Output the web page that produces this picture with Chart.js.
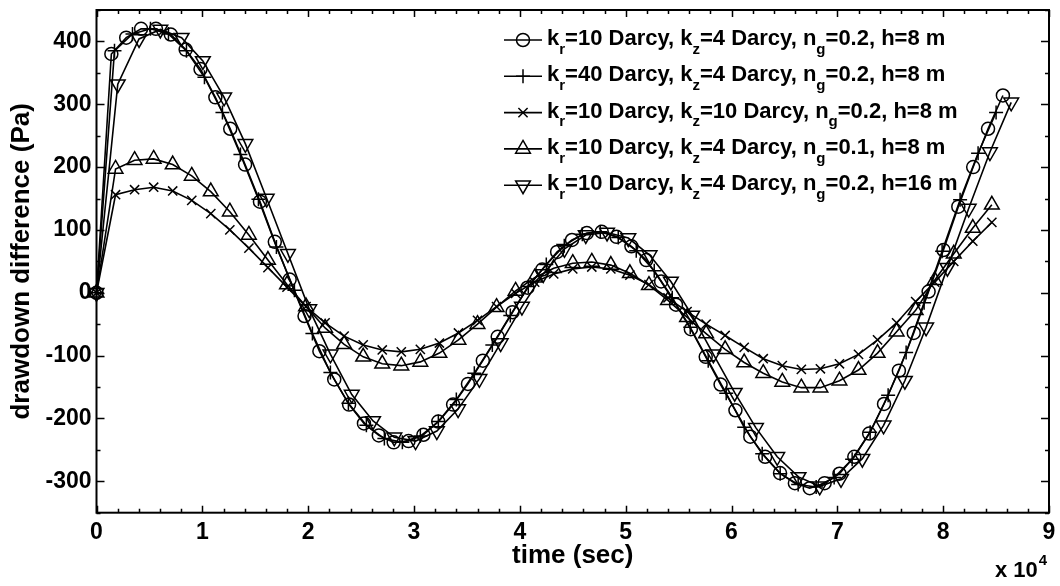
<!DOCTYPE html>
<html><head><meta charset="utf-8">
<script src="https://cdn.jsdelivr.net/npm/chart.js@4/dist/chart.umd.min.js"></script>
<style>html,body{margin:0;padding:0;background:#fff}canvas{display:block}</style>
</head><body>
<canvas id="c" width="1060" height="586"></canvas>
<script>
// ---- tick labels ----
const xTickLabels = [0, 1, 2, 3, 4, 5, 6, 7, 8, 9];           // units of 10^4 sec
const yTickLabels = [-300, -200, -100, 0, 100, 200, 300, 400];
const xTitle = 'time (sec)';
const yTitle = 'drawdown difference (Pa)';
const xExponent = ['x 10', '4'];
// legend labels, "_c" = subscript character
const legendLabels = [
  'k_r=10 Darcy, k_z=4 Darcy, n_g=0.2, h=8 m',
  'k_r=40 Darcy, k_z=4 Darcy, n_g=0.2, h=8 m',
  'k_r=10 Darcy, k_z=10 Darcy, n_g=0.2, h=8 m',
  'k_r=10 Darcy, k_z=4 Darcy, n_g=0.1, h=8 m',
  'k_r=10 Darcy, k_z=4 Darcy, n_g=0.2, h=16 m'
];

// ---- series 1 : circles ----
const t1 = [0,1404,2808,4212,5616,7020,8424,9828,11232,12636,14040,15444,16848,18252,19656,21060,22464,23868,25272,26676,28080,29484,30888,32292,33696,35100,36504,37908,39312,40716,42120,43524,44928,46332,47736,49140,50544,51948,53352,54756,56160,57564,58968,60372,61776,63180,64584,65988,67392,68796,70200,71604,73008,74412,75816,77220,78624,80028,81432,82836,84240,85644];
const s1 = [0,380,406,420,420,411,387,356,311,261,
  204,145,81,21,-37,-93,-138,-178,-208,-227,
  -238,-236,-226,-205,-178,-145,-108,-70,-31,8,
  37,65,84,95,97,89,74,52,18,-19,
  -58,-102,-146,-187,-229,-261,-287,-303,-311,-303,
  -288,-261,-224,-177,-124,-64,2,68,137,200,
  261,314];
// ---- series 2 : plus ----
const t2 = [0,1700,3400,5100,6800,8500,10200,11900,13600,15300,17000,18700,20400,22100,23800,25500,27200,28900,30600,32300,34000,35700,37400,39100,40800,42500,44200,45900,47600,49300,51000,52700,54400,56100,57800,59500,61200,62900,64600,66300,68000,69700,71400,73100,74800,76500,78200,79900,81600,83300,85000];
const s2 = [0,385,412,420,412,385,343,287,220,149,
  73,4,-65,-127,-176,-211,-232,-238,-228,-205,
  -170,-128,-83,-36,10,45,75,93,97,88,
  67,35,-8,-55,-108,-160,-214,-256,-288,-305,
  -309,-294,-265,-222,-163,-95,-16,66,148,222,
  287];
// ---- series 3 : x-marks ----
const t3 = [0,1800,3600,5400,7200,9000,10800,12600,14400,16200,18000,19800,21600,23400,25200,27000,28800,30600,32400,34200,36000,37800,39600,41400,43200,45000,46800,48600,50400,52200,54000,55800,57600,59400,61200,63000,64800,66600,68400,70200,72000,73800,75600,77400,79200,81000,82800,84600];
const s3 = [0,156,164,168,162,147,126,100,71,40,
  9,-22,-48,-69,-83,-91,-94,-90,-80,-64,
  -44,-22,-1,17,30,38,41,38,28,13,
  -8,-30,-50,-68,-87,-105,-116,-122,-121,-113,
  -98,-75,-48,-14,17,50,82,112];
// ---- series 4 : up triangles ----
const t4 = [0,1800,3600,5400,7200,9000,10800,12600,14400,16200,18000,19800,21600,23400,25200,27000,28800,30600,32400,34200,36000,37800,39600,41400,43200,45000,46800,48600,50400,52200,54000,55800,57600,59400,61200,63000,64800,66600,68400,70200,72000,73800,75600,77400,79200,81000,82800,84600];
const s4 = [0,197,211,213,204,186,161,129,92,52,
  13,-22,-56,-82,-102,-113,-116,-110,-96,-75,
  -50,-23,3,24,39,47,49,44,31,12,
  -12,-39,-65,-90,-111,-128,-142,-151,-151,-140,
  -123,-96,-62,-28,20,62,103,140];
// ---- series 5 : down triangles ----
const t5 = [0,2010,4020,6030,8040,10050,12060,14070,16080,18090,20100,22110,24120,26130,28140,30150,32160,34170,36180,38190,40200,42210,44220,46230,48240,50250,52260,54270,56280,58290,60300,62310,64320,66330,68340,70350,72360,74370,76380,78390,80400,82410,84420,86430];
const s5 = [0,332,404,419,406,369,311,237,150,62,
  -26,-98,-162,-204,-230,-236,-220,-185,-137,-80,
  -22,30,70,92,96,87,60,18,-36,-98,
  -159,-215,-261,-293,-308,-296,-264,-211,-140,-55,
  40,134,224,303];

const FONT = '"Liberation Sans", Arial, Helvetica, sans-serif';
const markers = [
  {pointStyle:'circle', radius:6.5, rotation:0},
  {pointStyle:'cross', radius:7, rotation:0},
  {pointStyle:'crossRot', radius:6.5, rotation:0},
  {pointStyle:'triangle', radius:8.5, rotation:0},
  {pointStyle:'triangle', radius:8.5, rotation:180}
];
const times = [t1,t2,t3,t4,t5];
const vals = [s1,s2,s3,s4,s5];

const datasets = vals.map((v, i) => ({
  label: legendLabels[i],
  data: v.map((y, j) => ({x: times[i][j], y})),
  borderColor: '#000',
  borderWidth: 1.6,
  tension: 0,
  fill: false,
  clip: false,
  pointStyle: markers[i].pointStyle,
  pointRadius: markers[i].radius,
  pointRotation: markers[i].rotation,
  pointBorderColor: '#000',
  pointBackgroundColor: 'rgba(0,0,0,0)',
  pointBorderWidth: 1.5
}));

function drawRich(ctx, str, x, y, size) {
  let cx = x;
  for (let i = 0; i < str.length; i++) {
    const ch = str[i];
    if (ch === '_' && i + 1 < str.length) {
      const s = str[i + 1];
      ctx.font = 'bold ' + Math.round(size * 0.7) + 'px ' + FONT;
      ctx.fillText(s, cx, y + size * 0.4);
      cx += ctx.measureText(s).width;
      i++;
    } else {
      let j = i;
      let run = '';
      while (j < str.length && str[j] !== '_') { run += str[j]; j++; }
      ctx.font = 'bold ' + size + 'px ' + FONT;
      ctx.fillText(run, cx, y);
      cx += ctx.measureText(run).width;
      i = j - 1;
    }
  }
}

const framePlugin = {
  id: 'frame',
  afterDatasetsDraw(chart) {
    const {ctx, chartArea: a, scales: {x, y}} = chart;
    ctx.save();
    ctx.strokeStyle = '#000';
    ctx.lineWidth = 1.5;
    ctx.beginPath();
    for (let v = 0; v <= 90000; v += 2000) {
      const px = Math.round(x.getPixelForValue(v)) + 0.5;
      const len = v % 10000 === 0 ? 7 : 4;
      ctx.moveTo(px, a.bottom); ctx.lineTo(px, a.bottom - len);
      ctx.moveTo(px, a.top); ctx.lineTo(px, a.top + len);
    }
    for (let v = -350; v <= 450; v += 50) {
      const py = Math.round(y.getPixelForValue(v)) + 0.5;
      const len = v % 100 === 0 ? 8 : 4;
      ctx.moveTo(a.left, py); ctx.lineTo(a.left + len, py);
      ctx.moveTo(a.right, py); ctx.lineTo(a.right - len, py);
    }
    ctx.stroke();
    ctx.lineWidth = 2;
    ctx.strokeRect(a.left, a.top, a.right - a.left, a.bottom - a.top);
    ctx.restore();

    // legend (no box)
    ctx.save();
    ctx.fillStyle = '#000';
    ctx.strokeStyle = '#000';
    ctx.textBaseline = 'alphabetic';
    ctx.textAlign = 'left';
    for (let i = 0; i < legendLabels.length; i++) {
      const ly = 40 + i * 36.3;
      ctx.lineWidth = 1.6;
      ctx.beginPath(); ctx.moveTo(504, ly); ctx.lineTo(542, ly); ctx.stroke();
      ctx.lineWidth = 1.5;
      ctx.fillStyle = 'rgba(0,0,0,0)';
      Chart.helpers.drawPoint(ctx, {pointStyle: markers[i].pointStyle, radius: markers[i].radius, rotation: markers[i].rotation, borderWidth: 1.5}, 523, ly);
      ctx.fillStyle = '#000';
      drawRich(ctx, legendLabels[i], 547, ly + 5, 22);
    }
    // x 10^4
    ctx.font = 'bold 22px ' + FONT;
    ctx.fillText(xExponent[0], 995, 577);
    const w = ctx.measureText(xExponent[0]).width;
    ctx.font = 'bold 15px ' + FONT;
    ctx.fillText(xExponent[1], 995 + w + 1, 565);
    ctx.restore();
  }
};

new Chart(document.getElementById('c'), {
  type: 'line',
  data: {datasets},
  options: {
    responsive: false,
    animation: false,
    layout: {padding: {top: 8, right: 11, left: 0, bottom: 0}},
    plugins: {legend: {display: false}, tooltip: {enabled: false}},
    scales: {
      x: {
        type: 'linear', min: 0, max: 90000,
        afterBuildTicks: s => { s.ticks = xTickLabels.map(v => ({value: v * 10000})); },
        afterFit: s => { s.height = 73.3; s.paddingLeft = 0; s.paddingRight = 0; },
        ticks: {callback: v => String(v / 10000), color: '#000', padding: 6, maxRotation: 0, autoSkip: false,
                font: {family: FONT, size: 23, weight: 'bold'}},
        grid: {display: false, drawTicks: false}, border: {display: false},
        title: {display: true, text: xTitle, color: '#000', font: {family: FONT, size: 26, weight: 'bold'},
                padding: {top: 0, bottom: 15}}
      },
      y: {
        type: 'linear', min: -350, max: 450,
        afterBuildTicks: s => { s.ticks = yTickLabels.map(v => ({value: v})); },
        afterFit: s => { s.width = 96.5; s.paddingTop = 0; s.paddingBottom = 0; },
        ticks: {color: '#000', padding: 5, font: {family: FONT, size: 23, weight: 'bold'}},
        grid: {display: false, drawTicks: false}, border: {display: false},
        title: {display: true, text: yTitle, color: '#000', font: {family: FONT, size: 26, weight: 'bold'},
                padding: {top: 6, bottom: 0}}
      }
    }
  },
  plugins: [framePlugin]
});
</script>
</body></html>
